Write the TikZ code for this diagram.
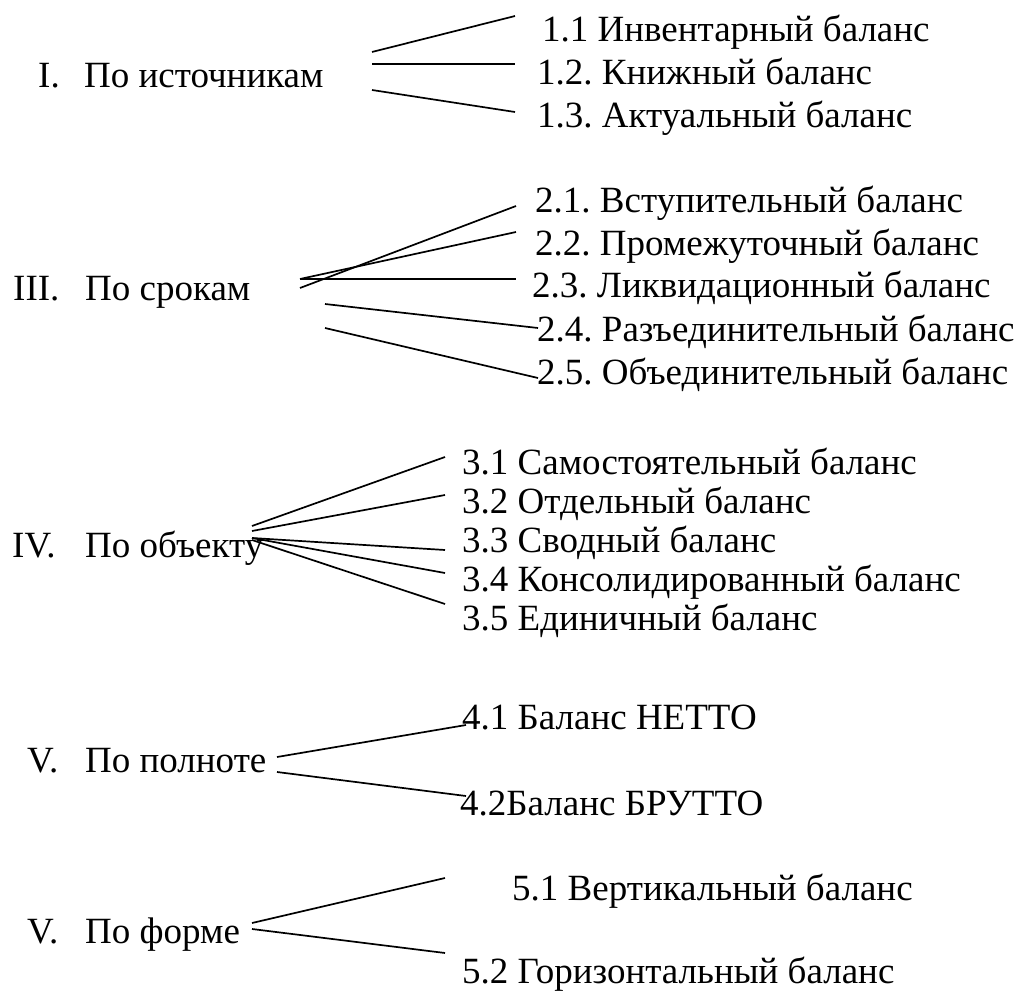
\documentclass[tikz,border=0pt]{standalone}
\usepackage{fontspec}
\setmainfont{Liberation Serif}
\newfontfamily\tnr{Liberation Serif}
\frenchspacing
\begin{document}
\begin{tikzpicture}[x=1pt,y=-1pt,
  txt/.style={anchor=base west, inner sep=0pt, font=\tnr\fontsize{37}{40}\selectfont},
  link/.style={line width=1.7pt}]
\useasboundingbox[fill=white] (0,0) rectangle (1022,992);

% ---------- group I ----------
\node[txt] (n1) at (38,88) {I.};
\node[txt] (g1) at (84,88) {По источникам};
\node[txt] (t11) at (542,42) {1.1 Инвентарный баланс};
\node[txt] (t12) at (537,85) {1.2. Книжный баланс};
\node[txt] (t13) at (537,128) {1.3. Актуальный баланс};
\coordinate (a1) at (372,52);  \coordinate (b1) at (515,16);
\coordinate (a2) at (372,64);  \coordinate (b2) at (515,64);
\coordinate (a3) at (372,90);  \coordinate (b3) at (515,112);
\draw[link] (a1) -- (b1);
\draw[link] (a2) -- (b2);
\draw[link] (a3) -- (b3);

% ---------- group III ----------
\node[txt] (n2) at (13,300) {III.};
\node[txt] (g2) at (85,300) {По срокам};
\node[txt] (t21) at (535,213) {2.1. Вступительный баланс};
\node[txt] (t22) at (535,255) {2.2. Промежуточный баланс};
\node[txt] (t23) at (532,298) {2.3. Ликвидационный баланс};
\node[txt] (t24) at (537,341) {2.4. Разъединительный баланс};
\node[txt] (t25) at (537,384) {2.5. Объединительный баланс};
\coordinate (c1) at (300,288); \coordinate (d1) at (516,206);
\coordinate (c2) at (300,279); \coordinate (d2) at (516,232);
\coordinate (c3) at (300,279); \coordinate (d3) at (516,279);
\coordinate (c4) at (325,304); \coordinate (d4) at (538,328);
\coordinate (c5) at (325,328); \coordinate (d5) at (538,378);
\draw[link] (c1) -- (d1);
\draw[link] (c2) -- (d2);
\draw[link] (c3) -- (d3);
\draw[link] (c4) -- (d4);
\draw[link] (c5) -- (d5);

% ---------- group IV ----------
\node[txt] (n3) at (12,557) {IV.};
\node[txt] (g3) at (85,557) {По объекту};
\node[txt] (t31) at (462,474) {3.1 Самостоятельный баланс};
\node[txt] (t32) at (462,513) {3.2 Отдельный баланс};
\node[txt] (t33) at (462,552) {3.3 Сводный баланс};
\node[txt] (t34) at (462,591) {3.4 Консолидированный баланс};
\node[txt] (t35) at (462,630) {3.5 Единичный баланс};
\coordinate (e1) at (252,526); \coordinate (f1) at (445,457);
\coordinate (e2) at (252,531); \coordinate (f2) at (445,495);
\coordinate (e3) at (252,538); \coordinate (f3) at (445,550);
\coordinate (e4) at (252,538); \coordinate (f4) at (445,573);
\coordinate (e5) at (252,540); \coordinate (f5) at (445,604);
\draw[link] (e1) -- (f1);
\draw[link] (e2) -- (f2);
\draw[link] (e3) -- (f3);
\draw[link] (e4) -- (f4);
\draw[link] (e5) -- (f5);

% ---------- group V (completeness) ----------
\node[txt] (n4) at (27,772) {V.};
\node[txt] (g4) at (85,772) {По полноте};
\node[txt] (t41) at (462,729) {4.1 Баланс НЕТТО};
\node[txt] (t42) at (460,815) {4.2Баланс БРУТТО};
\coordinate (h1) at (277,757); \coordinate (k1) at (466,725);
\coordinate (h2) at (277,772); \coordinate (k2) at (466,796);
\draw[link] (h1) -- (k1);
\draw[link] (h2) -- (k2);

% ---------- group V (form) ----------
\node[txt] (n5) at (27,943) {V.};
\node[txt] (g5) at (85,943) {По форме};
\node[txt] (t51) at (512,900) {5.1 Вертикальный баланс};
\node[txt] (t52) at (462,983) {5.2 Горизонтальный баланс};
\coordinate (m1) at (252,923); \coordinate (p1) at (445,878);
\coordinate (m2) at (252,929); \coordinate (p2) at (445,953);
\draw[link] (m1) -- (p1);
\draw[link] (m2) -- (p2);
\end{tikzpicture}
\end{document}
